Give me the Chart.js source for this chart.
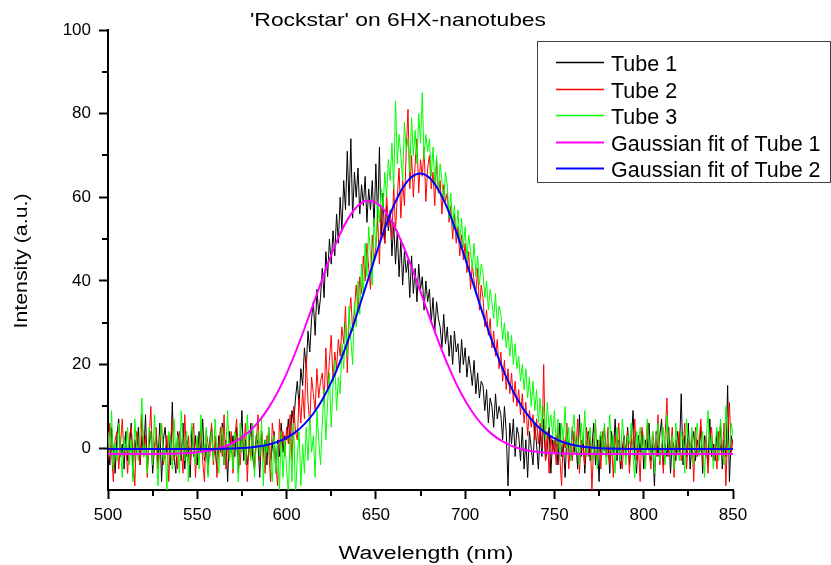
<!DOCTYPE html>
<html>
<head>
<meta charset="utf-8">
<title>'Rockstar' on 6HX-nanotubes</title>
<script src="https://cdn.jsdelivr.net/npm/chart.js@4.4.1/dist/chart.umd.min.js"></script>
<style>
  html, body { margin: 0; padding: 0; background: #fff; }
  canvas { display: block; }
</style>
</head>
<body>
<canvas id="chart" width="831" height="565"></canvas>
<script>
// measured spectra, 1 nm steps starting at 500 nm
const specStart = 500, specStep = 1;

const tube1 = [
  2,-4,5,-1,-6,3,7,-2,1,-5,
  4,-3,0,6,-7,2,-1,5,-4,3,
  -2,8,-5,1,4,-6,0,3,-3,6,
  -8,2,5,-1,3,-4,11,-2,-6,4,
  1,-3,6,-5,2,0,-7,5,-2,3,
  -4,4,-1,7,-3,1,-6,2,5,-2,
  0,-5,3,-1,6,-4,2,-8,4,-1,
  3,-2,5,-6,1,9,-3,2,-4,0,
  6,-2,-5,3,1,-7,4,-1,2,-4,
  5,-3,0,4,-6,2,-2,6,-1,3,
  2,7,1,9,6,12,16,10,19,15,
  24,19,28,23,31,35,27,38,32,36,
  43,36,47,41,50,44,52,46,56,49,
  60,52,64,57,71,58,74,55,66,60,
  67,56,63,58,65,54,62,57,64,53,
  68,55,72,51,61,49,58,52,56,46,
  54,44,52,41,50,39,47,42,45,36,
  46,37,43,35,44,38,41,33,40,35,
  38,30,36,28,35,31,29,24,32,25,
  29,22,27,20,28,23,25,18,26,20,
  24,17,22,19,15,21,13,18,12,16,
  15,9,14,6,12,10,5,13,7,10,
  8,2,10,4,-9,6,1,7,-2,5,
  3,-3,5,-5,2,-7,4,0,-4,6,
  1,-5,4,-2,7,-3,0,5,-6,2,
  -1,3,-4,6,-2,1,-7,4,0,-3,
  5,-1,2,-5,8,-2,3,-6,1,4,
  -3,0,6,-4,2,-8,3,-1,5,-2,
  1,-6,4,-1,7,-3,2,-5,0,3,
  -2,5,-4,1,9,-2,-6,3,-1,4,
  -5,2,0,6,-3,1,-9,4,-2,3,
  7,-4,1,-2,5,-6,2,0,-3,4,
  -1,13,-4,3,-2,6,-5,1,4,-3,
  2,-1,5,-6,3,0,-4,7,-2,1,
  -3,4,-1,6,-5,2,-2,15,-8,3,
  1
];

const tube2 = [
  -3,6,-1,-8,2,4,-5,1,7,-2,
  0,-6,3,5,-2,-9,4,1,-4,8,
  -1,3,-7,2,10,-3,0,5,-5,1,
  6,-4,-1,3,-8,2,7,-3,1,-5,
  4,0,-6,8,-2,3,-4,1,6,-7,
  2,-1,5,-3,-8,4,1,-2,6,-4,
  3,-7,0,5,-2,8,-5,1,-3,4,
  -6,2,7,-1,-4,3,0,6,-8,2,
  -2,5,-5,1,8,-3,4,-1,-6,3,
  0,-8,6,2,-4,-9,7,1,4,-2,
  5,1,8,-3,10,4,2,12,6,14,
  7,22,11,6,17,13,9,19,12,16,
  18,11,24,14,21,27,16,23,19,26,
  22,29,25,34,18,31,36,28,33,39,
  33,41,37,46,40,49,43,38,51,45,
  48,55,44,58,52,49,61,53,57,50,
  63,52,60,67,55,64,58,71,81,62,
  70,60,68,74,61,69,65,72,59,67,
  70,62,66,58,69,61,64,56,63,59,
  61,54,58,50,56,49,53,46,51,45,
  49,42,47,38,44,40,37,43,33,39,
  36,29,33,27,31,24,28,22,26,19,
  23,16,21,14,19,13,18,11,16,10,
  14,8,13,6,11,3,9,5,8,2,
  7,1,6,0,20,-3,4,-6,3,-1,
  2,-4,5,-2,-9,3,0,6,-5,1,
  -3,4,-1,7,-6,2,0,-4,5,-2,
  3,-10,1,6,-3,2,-5,4,0,-2,
  5,-4,1,-7,3,0,6,-2,-5,2,
  -1,4,-6,3,0,7,-3,1,-8,5,
  2,-3,6,-1,-5,4,0,-2,8,-4,
  1,-6,3,12,-2,0,5,-7,2,-1,
  4,-3,0,6,-5,2,-1,3,-8,5,
  -2,1,7,-4,0,3,-6,2,5,-3,
  1,-5,4,0,-2,6,-9,3,11,-1,
  2
];

const tube3 = [
  4,-2,9,-5,1,-3,6,0,-7,3,
  -1,5,-4,2,-8,7,0,-3,4,12,
  -2,1,-6,5,3,-4,8,-1,-9,2,
  6,-3,0,-10,4,1,-5,7,-2,3,
  -6,9,1,-3,4,-8,2,6,-1,-4,
  3,-5,8,0,-2,5,-7,1,4,-3,
  7,-1,-6,2,5,-4,0,9,-3,1,
  -5,4,2,-8,6,-1,3,-4,8,0,
  -3,6,-7,1,4,-2,7,-9,2,-1,
  5,-4,-8,3,-6,1,-10,4,-7,2,
  -5,-11,3,-8,6,-12,-2,4,-9,1,
  -6,5,-3,8,-1,3,-7,9,2,-4,
  6,14,2,11,18,5,15,21,9,17,
  13,25,19,30,22,34,26,20,35,29,
  40,32,44,37,49,41,53,46,39,55,
  48,59,54,62,57,66,60,69,64,73,
  62,83,68,75,70,64,78,71,74,66,
  79,70,76,68,80,73,85,69,75,71,
  74,65,72,63,70,61,68,64,59,66,
  63,55,61,53,58,51,57,49,55,48,
  53,45,51,47,43,49,41,46,39,44,
  42,36,40,33,38,35,31,37,29,34,
  32,26,30,24,28,22,27,20,25,19,
  22,16,20,14,19,12,17,10,16,9,
  14,6,12,4,10,2,11,5,8,3,
  9,1,7,-2,6,2,10,0,5,-3,
  4,8,-1,3,-4,6,1,9,-2,2,
  5,-3,0,7,-5,2,4,-1,6,-4,
  1,8,-2,3,-6,5,0,-3,7,2,
  -4,3,1,6,-2,-7,4,0,5,-1,
  3,-5,7,1,-2,4,-6,2,6,-3,
  0,5,-4,8,1,-2,3,-5,6,0,
  -3,4,2,-6,7,1,-1,5,-4,3,
  6,-2,0,4,-7,2,9,-1,3,-5,
  1,5,-3,7,0,-4,10,2,-2,6,
  3
];

// gaussian fits, 5 nm steps starting at 500 nm
const fitStart = 500, fitStep = 5;

const fit1 = [
  -1.4,-1.4,-1.4,-1.4,-1.4,-1.4,
  -1.36,-1.32,-1.26,-1.15,-1.0,-0.7,-0.3,0.35,1.27,2.57,
  4.35,6.7,9.7,13.41,17.84,22.94,28.56,34.51,40.5,46.2,
  51.23,55.25,57.96,59.15,58.73,56.73,53.3,48.71,43.29,37.4,
  31.39,25.59,20.21,15.45,11.39,8.05,5.39,3.36,1.85,0.75,
  -0.01,-0.53,-0.86,-1.08,-1.22,-1.3,-1.35,-1.38,
  -1.4,-1.4,-1.4,-1.4,-1.4,-1.4,-1.4,-1.4,-1.4,-1.4,-1.4,-1.4,-1.4,-1.4,-1.4,-1.4,-1.4
];

const fit2 = [
  -0.2,-0.2,-0.2,-0.2,-0.2,-0.2,-0.2,-0.2,-0.2,-0.2,-0.2,-0.2,
  -0.17,-0.13,-0.08,0.02,0.18,0.45,0.87,1.51,
  2.47,3.84,5.75,8.3,11.61,15.74,20.71,26.44,32.8,39.5,
  46.22,52.53,58.01,62.23,64.87,65.7,64.65,61.8,57.41,51.8,
  45.42,38.69,32.01,25.72,20.07,15.2,11.17,7.96,5.49,3.66,
  2.34,1.42,0.81,0.41,0.16,0.0,-0.09,-0.14,-0.17,
  -0.2,-0.2,-0.2,-0.2,-0.2,-0.2,-0.2,-0.2,-0.2,-0.2,-0.2,-0.2
];

// axes
const xTicks = [500, 550, 600, 650, 700, 750, 800, 850];
const xMinor = [525, 575, 625, 675, 725, 775, 825];
const yTicks = [0, 20, 40, 60, 80, 100];
const yMinor = [10, 30, 50, 70, 90];

const seriesNames  = ['Tube 1', 'Tube 2', 'Tube 3', 'Gaussian fit of Tube 1', 'Gaussian fit of Tube 2'];
const seriesColors = ['#000000', '#ff0000', '#00ff00', '#ff00ff', '#0000ff'];
const seriesWidths = [1, 1, 1, 2, 2];

const FONT = '"Liberation Sans", Arial, sans-serif';
const toPoints = (vals, start, step) => vals.map((y, i) => ({ x: start + i * step, y }));

// draw text squeezed/stretched to a measured width
function fitText(ctx, text, cx, cy, width, rot) {
  ctx.save();
  ctx.translate(cx, cy);
  if (rot) ctx.rotate(rot);
  const w = ctx.measureText(text).width;
  ctx.scale(width / w, 1);
  ctx.textAlign = 'center';
  ctx.textBaseline = 'alphabetic';
  ctx.fillText(text, 0, 0);
  ctx.restore();
}

const decor = {
  id: 'decor',
  afterDraw(chart) {
    const ctx = chart.ctx;
    const xs = chart.scales.x, ys = chart.scales.y;
    ctx.save();

    // minor ticks
    ctx.strokeStyle = '#000';
    ctx.lineWidth = 2;
    ctx.beginPath();
    xMinor.forEach(v => {
      const px = Math.round(xs.getPixelForValue(v));
      ctx.moveTo(px, ys.bottom); ctx.lineTo(px, ys.bottom + 6);
    });
    yMinor.forEach(v => {
      const py = Math.round(ys.getPixelForValue(v));
      ctx.moveTo(xs.left, py); ctx.lineTo(xs.left - 6, py);
    });
    ctx.stroke();

    // titles
    ctx.fillStyle = '#000';
    ctx.font = '19px ' + FONT;
    fitText(ctx, "'Rockstar' on 6HX-nanotubes", 398, 26, 296);
    ctx.font = '18px ' + FONT;
    fitText(ctx, 'Wavelength (nm)', 426, 559, 175);
    fitText(ctx, 'Intensity (a.u.)', 27, 261, 135, -Math.PI / 2);

    // legend box
    ctx.fillStyle = '#fff';
    ctx.fillRect(537, 41, 294, 141);
    ctx.strokeStyle = '#404040';
    ctx.lineWidth = 1;
    ctx.strokeRect(537.5, 41.5, 293, 141);
    ctx.font = '21.5px ' + FONT;
    ctx.textAlign = 'left';
    ctx.textBaseline = 'alphabetic';
    seriesNames.forEach((name, i) => {
      const base = Math.round(71 + i * 26.6);
      const ly = base - 8.5;
      ctx.beginPath();
      ctx.strokeStyle = seriesColors[i];
      ctx.lineWidth = seriesWidths[i] === 1 ? 1.5 : 2;
      ctx.moveTo(556, ly);
      ctx.lineTo(604, ly);
      ctx.stroke();
      ctx.fillStyle = '#000';
      ctx.fillText(name, 611, base);
    });
    ctx.restore();
  }
};

const fitOpts = { cubicInterpolationMode: 'monotone' };
const datasets = [
  { data: toPoints(tube1, specStart, specStep), order: 5 },
  { data: toPoints(tube2, specStart, specStep), order: 4 },
  { data: toPoints(tube3, specStart, specStep), order: 3 },
  Object.assign({ data: toPoints(fit1, fitStart, fitStep), order: 2 }, fitOpts),
  Object.assign({ data: toPoints(fit2, fitStart, fitStep), order: 1 }, fitOpts)
].map((ds, i) => Object.assign(ds, {
  label: seriesNames[i],
  borderColor: seriesColors[i],
  backgroundColor: seriesColors[i],
  borderWidth: seriesWidths[i],
  pointRadius: 0,
  fill: false
}));

const axisCommon = {
  type: 'linear',
  grid: { drawOnChartArea: false, drawTicks: true, tickLength: 9, tickWidth: 2, tickColor: '#000' },
  border: { display: true, color: '#000', width: 2 }
};

new Chart(document.getElementById('chart'), {
  type: 'line',
  data: { datasets },
  options: {
    responsive: false,
    animation: false,
    devicePixelRatio: 1,
    layout: { padding: { top: 30, right: 98, left: 0, bottom: 0 } },
    plugins: { legend: { display: false }, tooltip: { enabled: false }, title: { display: false } },
    scales: {
      x: Object.assign({}, axisCommon, {
        min: 500, max: 850,
        afterBuildTicks: s => { s.ticks = xTicks.map(v => ({ value: v })); },
        afterFit: s => { s.height = 75; },
        ticks: { font: { family: FONT, size: 17 }, color: '#000', padding: 6, maxRotation: 0, autoSkip: false }
      }),
      y: Object.assign({}, axisCommon, {
        min: -10, max: 100,
        afterBuildTicks: s => { s.ticks = yTicks.map(v => ({ value: v })); },
        afterFit: s => { s.width = 108; },
        ticks: { font: { family: FONT, size: 17 }, color: '#000', padding: 8, autoSkip: false }
      })
    }
  },
  plugins: [decor]
});
</script>
</body>
</html>
